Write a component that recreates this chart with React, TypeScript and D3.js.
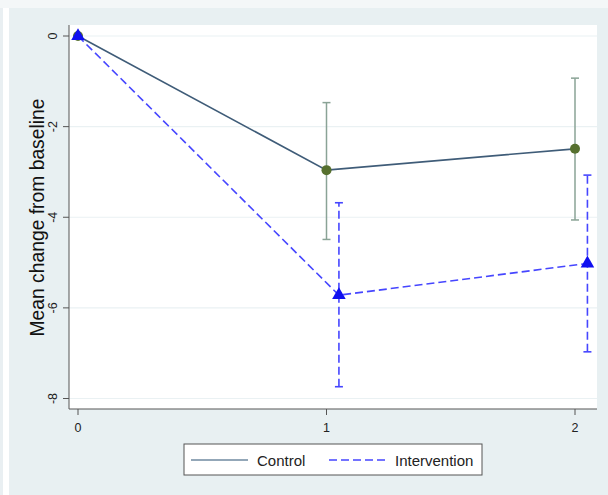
import React from "react";
import * as d3 from "d3";

const timepoints = [0, 1, 2];
const controlX = [0, 1, 2];
const controlMean = [0, -2.96, -2.49];
const controlLower = [0, -4.49, -4.06];
const controlUpper = [0, -1.47, -0.93];
const interventionX = [0, 1.05, 2.05];
const interventionMean = [0, -5.72, -5.02];
const interventionLower = [0, -7.74, -6.97];
const interventionUpper = [0, -3.68, -3.07];
const yTicks = [0, -2, -4, -6, -8];
const xTicks = [0, 1, 2];
const seriesNames = ["Control", "Intervention"];

const W = 608;
const H = 495;
const plot = { left: 69, right: 597, top: 25, bottom: 409 };

export default function App() {
  const x = d3.scaleLinear().domain([0, 2]).range([78, 575]);
  const y = d3.scaleLinear().domain([0, -8]).range([36, 398.5]);

  const ctrl = controlX.map((xv, i) => ({ x: xv, m: controlMean[i], lo: controlLower[i], hi: controlUpper[i] }));
  const intv = interventionX.map((xv, i) => ({ x: xv, m: interventionMean[i], lo: interventionLower[i], hi: interventionUpper[i] }));
  const line = d3.line<{ x: number; m: number }>().x((d) => x(d.x)).y((d) => y(d.m));
  const tri = d3.symbol().type(d3.symbolTriangle).size(80)();

  const ctrlColor = "#3f5c78";
  const ctrlMarker = "#56702e";
  const ciColor = "#8aa396";
  const intvColor = "#4646ff";
  const intvMarker = "#1010f0";

  return (
    <svg width={W} height={H} style={{ position: "absolute", left: 0, top: 0 }} fontFamily="'Liberation Sans', Arial, sans-serif">
      <rect x={0} y={0} width={W} height={H} fill="#e9eff2" />
      <rect x={3} y={0} width={6} height={H} fill="#ffffff" />
      <rect x={0} y={0} width={W} height={8} fill="#f4f7f8" />
      <rect x={10} y={8} width={W - 10} height={H - 8} fill="#e8f0f2" />
      <rect x={plot.left} y={plot.top} width={plot.right - plot.left} height={plot.bottom - plot.top} fill="#ffffff" />
      {/* gridlines */}
      {yTicks.map((t) => (
        <line key={"g" + t} x1={plot.left} x2={plot.right} y1={y(t)} y2={y(t)} stroke="#eaf1f3" strokeWidth={1.2} />
      ))}
      {/* axes */}
      <line x1={plot.left} x2={plot.left} y1={plot.top} y2={plot.bottom} stroke="#555" strokeWidth={1} />
      <line x1={plot.left} x2={plot.right} y1={plot.bottom} y2={plot.bottom} stroke="#555" strokeWidth={1} />
      {yTicks.map((t) => (
        <g key={"y" + t}>
          <line x1={plot.left - 6} x2={plot.left} y1={y(t)} y2={y(t)} stroke="#555" />
          <text transform={`translate(${57},${y(t)}) rotate(-90)`} textAnchor="middle" fontSize={12.5} fill="#222">
            {t}
          </text>
        </g>
      ))}
      {xTicks.map((t) => (
        <g key={"x" + t}>
          <line x1={x(t)} x2={x(t)} y1={plot.bottom} y2={plot.bottom + 6} stroke="#555" />
          <text x={x(t)} y={plot.bottom + 23} textAnchor="middle" fontSize={12.5} fill="#222">
            {t}
          </text>
        </g>
      ))}
      <text transform={`translate(${44},${217.5}) rotate(-90)`} textAnchor="middle" fontSize={19.3} fill="#111">
        Mean change from baseline
      </text>

      {/* control CI */}
      {ctrl.filter((d) => d.lo !== d.hi).map((d, i) => (
        <g key={"cci" + i} stroke={ciColor} strokeWidth={1.5}>
          <line x1={x(d.x)} x2={x(d.x)} y1={y(d.lo)} y2={y(d.hi)} />
          <line x1={x(d.x) - 4} x2={x(d.x) + 4} y1={y(d.lo)} y2={y(d.lo)} />
          <line x1={x(d.x) - 4} x2={x(d.x) + 4} y1={y(d.hi)} y2={y(d.hi)} />
        </g>
      ))}
      {/* intervention CI */}
      {intv.filter((d) => d.lo !== d.hi).map((d, i) => (
        <g key={"ici" + i} stroke={intvColor} strokeWidth={1.6}>
          <line x1={x(d.x)} x2={x(d.x)} y1={y(d.lo)} y2={y(d.hi)} strokeDasharray="8,4" />
          <line x1={x(d.x) - 4} x2={x(d.x) + 4} y1={y(d.lo)} y2={y(d.lo)} />
          <line x1={x(d.x) - 4} x2={x(d.x) + 4} y1={y(d.hi)} y2={y(d.hi)} />
        </g>
      ))}
      <path d={line(ctrl) || ""} fill="none" stroke={ctrlColor} strokeWidth={1.6} />
      <path d={line(intv) || ""} fill="none" stroke={intvColor} strokeWidth={1.6} strokeDasharray="8,4" />
      {ctrl.map((d, i) => (
        <circle key={"cm" + i} cx={x(d.x)} cy={y(d.m)} r={5} fill={ctrlMarker} />
      ))}
      {intv.map((d, i) => (
        <path key={"im" + i} d={tri || ""} transform={`translate(${x(d.x)},${y(d.m)})`} fill={intvMarker} />
      ))}

      {/* legend */}
      <rect x={184} y={444} width={298} height={31} fill="#ffffff" stroke="#555" strokeWidth={1} />
      <line x1={191} x2={248} y1={460} y2={460} stroke="#6f8aa0" strokeWidth={1.6} />
      <text x={257} y={465.5} fontSize={15} fill="#222">{seriesNames[0]}</text>
      <line x1={329} x2={386} y1={460} y2={460} stroke={intvColor} strokeWidth={1.6} strokeDasharray="8,4" />
      <text x={395} y={465.5} fontSize={15} fill="#222">{seriesNames[1]}</text>
    </svg>
  );
}
